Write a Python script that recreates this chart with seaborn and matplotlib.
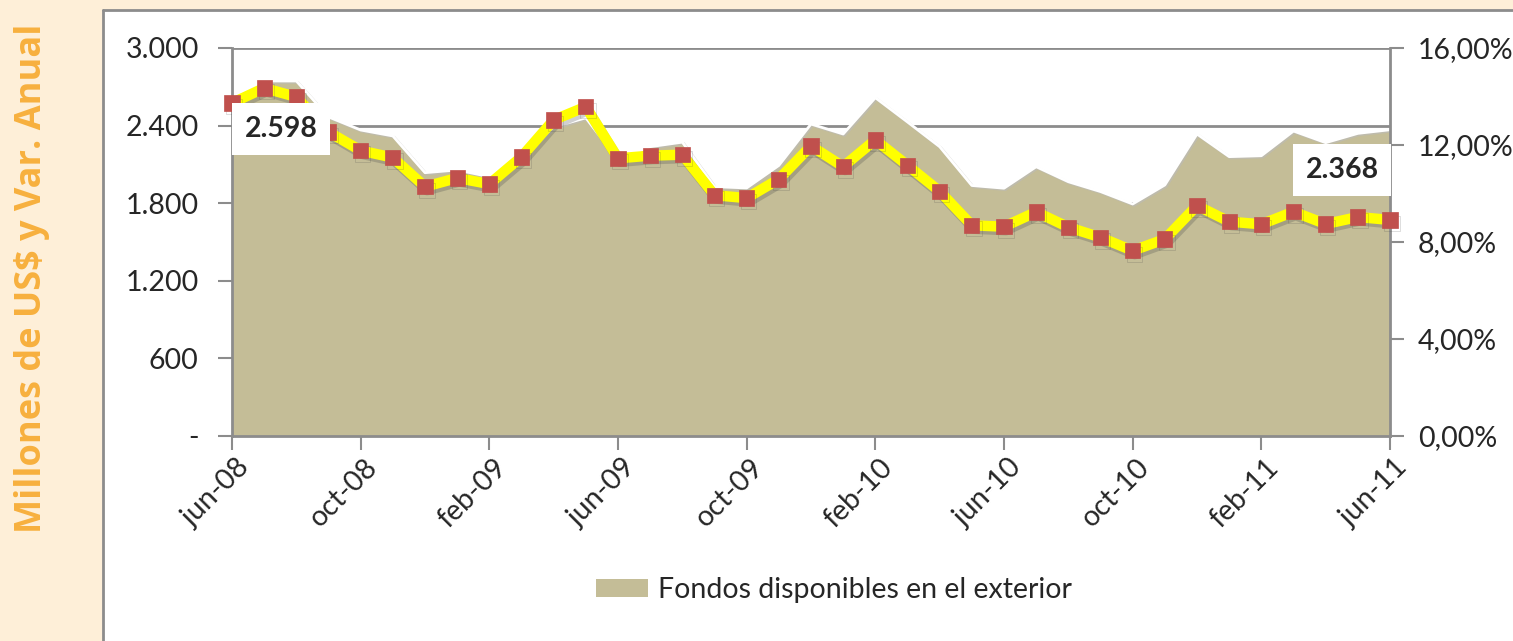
import numpy as np
import pandas as pd
import matplotlib
matplotlib.use("Agg")
import matplotlib.pyplot as plt
import matplotlib.patheffects as pe
import matplotlib.transforms as mtrans
from matplotlib.patches import Rectangle
from matplotlib.lines import Line2D
import seaborn as sns

# ---- data ----
months = ["jun-08", "jul-08", "ago-08", "sep-08", "oct-08", "nov-08", "dic-08",
          "ene-09", "feb-09", "mar-09", "abr-09", "may-09", "jun-09", "jul-09",
          "ago-09", "sep-09", "oct-09", "nov-09", "dic-09", "ene-10", "feb-10",
          "mar-10", "abr-10", "may-10", "jun-10", "jul-10", "ago-10", "sep-10",
          "oct-10", "nov-10", "dic-10", "ene-11", "feb-11", "mar-11", "abr-11",
          "may-11", "jun-11"]
fondos = [2598, 2745, 2745, 2467, 2366, 2320, 2036, 2057, 2005, 2160, 2390, 2460,
          2134, 2237, 2272, 1928, 1918, 2092, 2412, 2335, 2616, 2428, 2237, 1937,
          1916, 2082, 1966, 1890, 1794, 1941, 2335, 2160, 2167, 2358, 2268, 2340,
          2368]
var_anual = [13.73, 14.35, 13.98, 12.54, 11.77, 11.48, 10.28, 10.64, 10.39, 11.51,
             13.03, 13.58, 11.45, 11.56, 11.60, 9.93, 9.81, 10.59, 11.96, 11.11,
             12.21, 11.16, 10.09, 8.69, 8.63, 9.24, 8.61, 8.19, 7.64, 8.12, 9.50,
             8.84, 8.73, 9.25, 8.74, 9.03, 8.91]
tick_labels = ["jun-08", "oct-08", "feb-09", "jun-09", "oct-09", "feb-10",
               "jun-10", "oct-10", "feb-11", "jun-11"]
left_ticks = [0, 600, 1200, 1800, 2400, 3000]
left_labels = ["-", "600", "1.200", "1.800", "2.400", "3.000"]
right_ticks = [0, 4, 8, 12, 16]
right_labels = ["0,00%", "4,00%", "8,00%", "12,00%", "16,00%"]
legend_label = "Fondos disponibles en el exterior"
y_title = "Millones de US$ y Var. Anual"

df = pd.DataFrame({"idx": np.arange(len(months)), "mes": months,
                   "fondos": fondos, "var": var_anual})

# ---- style ----
sns.set_theme(style="white")
plt.rcParams["font.family"] = ["Lato", "DejaVu Sans"]

AREA = "#C4BD97"
GRID = "#8C8C8C"
FS = 20.5

fig = plt.figure(figsize=(15.13, 6.41), dpi=100)
fig.patch.set_facecolor("white")

# background panels
fig.patches.append(Rectangle((0, 0), 103 / 1513, 1, transform=fig.transFigure,
                             facecolor="#FEEFD8", edgecolor="none", zorder=0))
fig.patches.append(Rectangle((0, 1 - 10 / 641), 1, 10 / 641, transform=fig.transFigure,
                             facecolor="#FEEFD8", edgecolor="none", zorder=0))
fig.add_artist(Line2D([103 / 1513, 103 / 1513], [0, 1 - 10 / 641], transform=fig.transFigure,
                      color=GRID, lw=2))
fig.add_artist(Line2D([103 / 1513, 1], [1 - 10 / 641, 1 - 10 / 641], transform=fig.transFigure,
                      color=GRID, lw=2))

fig.text(32 / 1513, 1 - 278 / 641, y_title, rotation=90, ha="center", va="center",
         fontsize=26, fontweight="bold", color="#F7B03E", family=["Open Sans", "DejaVu Sans"])

ax = fig.add_axes([232 / 1513, (641 - 436) / 641, (1390 - 232) / 1513, (436 - 48) / 641])
ax.set_facecolor("none")

# area
ax.fill_between(df["idx"], 0, df["fondos"], color=AREA, zorder=2, lw=0,
                label=legend_label)
ax.plot(df["idx"], df["fondos"], color="white", lw=2, zorder=3,
        path_effects=[pe.SimpleLineShadow(offset=(1, -1), shadow_color="#bbbbbb", alpha=0.6),
                      pe.Normal()])

ax.set_xlim(0, len(months) - 1)
ax.set_ylim(0, 3000)
ax.set_yticks(left_ticks)
ax.set_yticklabels(left_labels)
ax.yaxis.grid(True, color=GRID, lw=2, zorder=1)
ax.set_axisbelow(True)
ax.tick_params(axis="y", length=10, width=1.5, color=GRID, labelsize=FS, pad=14, left=True)
ax.tick_params(axis="x", length=10, width=1.5, color=GRID, labelsize=FS, pad=6, bottom=True)
ax.set_xticks(np.arange(0, len(months), 4))
ax.set_xticklabels(tick_labels, rotation=45, ha="right", va="center",
                   rotation_mode="anchor")
for lbl in ax.get_xticklabels():
    lbl.set_transform(lbl.get_transform() + mtrans.ScaledTranslation(
        13 / 100, -5 / 100, fig.dpi_scale_trans))
for s in ["left", "bottom"]:
    ax.spines[s].set_color(GRID)
    ax.spines[s].set_linewidth(2)
for s in ["top", "right"]:
    ax.spines[s].set_visible(False)

# line on secondary axis
ax2 = ax.twinx()
ax2.set_ylim(0, 16)
shadow = [pe.SimpleLineShadow(offset=(1.5, -2.5), shadow_color="#444444", alpha=0.25), pe.Normal()]
sns.lineplot(data=df, x="idx", y="var", ax=ax2, color="#FFFF00", lw=7.5,
             marker="s", markersize=11, markerfacecolor="#C0504D",
             markeredgecolor="#C0504D", markeredgewidth=0.5, legend=False, zorder=5,
             path_effects=shadow)
for ln in ax2.lines:
    ln.set_clip_on(False)
ax2.set_ylabel("")
ax2.set_xlabel("")
ax.set_xlabel("")
ax.set_ylabel("")
ax2.set_yticks(right_ticks)
ax2.set_yticklabels(right_labels)
ax2.tick_params(axis="y", length=10, width=1.5, color=GRID, labelsize=FS, pad=10, right=True)
ax2.spines["right"].set_color(GRID)
ax2.spines["right"].set_linewidth(2)
for s in ["top", "left", "bottom"]:
    ax2.spines[s].set_visible(False)
ax2.grid(False)

# data labels
fig.text(281 / 1513, 1 - 129 / 641, f"{fondos[0]:,}".replace(",", "."),
         ha="center", va="center", fontsize=FS, fontweight="bold",
         bbox=dict(boxstyle="square,pad=0.45", fc="white", ec="none"), zorder=30)
fig.text(1342 / 1513, 1 - 170 / 641, f"{fondos[-1]:,}".replace(",", "."),
         ha="center", va="center", fontsize=FS, fontweight="bold",
         bbox=dict(boxstyle="square,pad=0.45", fc="white", ec="none"), zorder=30)

# legend
handle = Rectangle((0, 0), 1, 1, facecolor=AREA, edgecolor="none")
fig.legend([handle], [legend_label], loc="center", bbox_to_anchor=(834 / 1513, 51 / 641),
           frameon=False, fontsize=FS, handlelength=1.8, handleheight=0.55,
           handletextpad=0.35)

fig.savefig("out.png", dpi=100)
